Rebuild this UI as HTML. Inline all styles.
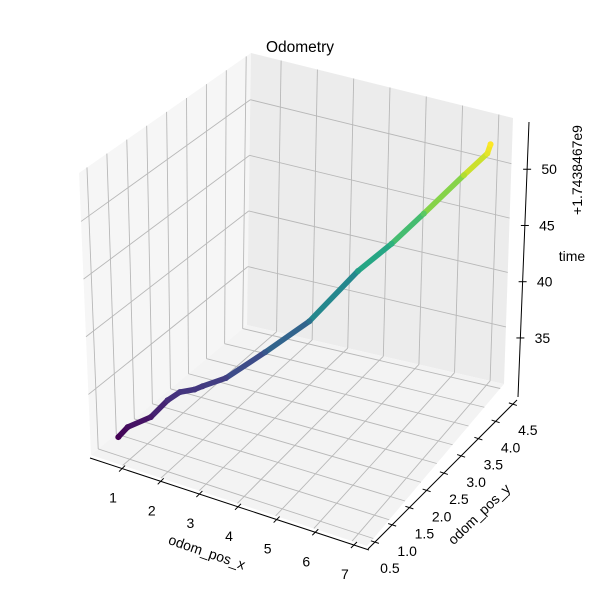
<!DOCTYPE html>
<html><head><meta charset="utf-8"><style>
html,body{margin:0;padding:0;background:#fff;}
svg{display:block;font-family:"Liberation Sans","DejaVu Sans",sans-serif;}
</style></head><body>
<svg id="chart" width="600" height="600" viewBox="0 0 600 600">
<rect width="600" height="600" fill="#fff"/>
<text x="300" y="52" font-size="15.5" text-anchor="middle" fill="#000">Odometry</text>
<g id="panes"></g><g id="grid"></g><g id="axes"></g><g id="marks"></g>
</svg>
<script>
// data
const odomX = [0.43, 0.60, 1.01, 1.31, 1.53, 1.79, 1.93, 2.35, 3.05, 3.85, 4.72, 5.32, 5.89, 6.59, 6.99, 7.04];
const odomY = [0.79, 0.88, 1.10, 1.27, 1.39, 1.53, 1.61, 1.83, 2.22, 2.65, 3.13, 3.45, 3.76, 4.14, 4.36, 4.39];
const timeZ = [30.3, 31.1, 31.8, 33.1, 33.7, 33.8, 34.0, 34.5, 36.3, 38.5, 42.3, 44.3, 46.6, 49.6, 51.3, 52.1];
const xTicks = [1, 2, 3, 4, 5, 6, 7];
const yTicks = [0.5, 1.0, 1.5, 2.0, 2.5, 3.0, 3.5, 4.0, 4.5];
const zTicks = [35, 40, 45, 50];
const xTickLabels = ["1","2","3","4","5","6","7"];
const yTickLabels = ["0.5","1.0","1.5","2.0","2.5","3.0","3.5","4.0","4.5"];
const zTickLabels = ["35","40","45","50"];

const NS = "http://www.w3.org/2000/svg";
const XL = [0.17, 7.39], YL = [0.30, 4.62], ZL = [29.75, 54.2];
const C = {
  "000":[91,455], "100":[367,546], "110":[504,384], "010":[247,325],
  "001":[79,173], "011":[251,53], "111":[513,118], "101":[341,238]
};
function lerp(a,b,t){return [a[0]+(b[0]-a[0])*t, a[1]+(b[1]-a[1])*t];}
function proj(x,y,z){
  const u=(x-XL[0])/(XL[1]-XL[0]), v=(y-YL[0])/(YL[1]-YL[0]), w=(z-ZL[0])/(ZL[1]-ZL[0]);
  const b0=lerp(lerp(C["000"],C["100"],u), lerp(C["010"],C["110"],u), v);
  const b1=lerp(lerp(C["001"],C["101"],u), lerp(C["011"],C["111"],u), v);
  return lerp(b0,b1,w);
}
function mk(tag, attrs, parent){
  const e=document.createElementNS(NS,tag);
  for(const k in attrs) e.setAttribute(k, attrs[k]);
  parent.appendChild(e); return e;
}
const panes=document.getElementById('panes'), grid=document.getElementById('grid'),
      axes=document.getElementById('axes'), marks=document.getElementById('marks');
function poly(pts){return pts.map(p=>p[0].toFixed(1)+','+p[1].toFixed(1)).join(' ');}
let p;
p=mk('polygon',{points:poly([C["000"],C["010"],C["011"],C["001"]]),fill:'#f6f6f6'},panes);
 
p=mk('polygon',{points:poly([C["010"],C["110"],C["111"],C["011"]]),fill:'#ececec'},panes);
 
p=mk('polygon',{points:poly([C["000"],C["100"],C["110"],C["010"]]),fill:'#f3f3f3'},panes);
 

function gl(a,b,name){
  const l=mk('line',{x1:a[0],y1:a[1],x2:b[0],y2:b[1],stroke:'#b8b8b8','stroke-width':0.9},grid);
   
}
xTicks.forEach(x=>{
  gl(proj(x,YL[0],ZL[0]),proj(x,YL[1],ZL[0]),'floor-gridline-x');
  gl(proj(x,YL[1],ZL[0]),proj(x,YL[1],ZL[1]),'back-gridline-x');
});
yTicks.forEach(y=>{
  gl(proj(XL[0],y,ZL[0]),proj(XL[1],y,ZL[0]),'floor-gridline-y');
  gl(proj(XL[0],y,ZL[0]),proj(XL[0],y,ZL[1]),'left-gridline-y');
});
zTicks.forEach(z=>{
  gl(proj(XL[0],YL[0],z),proj(XL[0],YL[1],z),'left-gridline-z');
  gl(proj(XL[0],YL[1],z),proj(XL[1],YL[1],z),'back-gridline-z');
});

const XA=[[90,458],[369,550]], YA=[[368,549],[517,400]], ZA=[[518,397],[529,122]];
function axLine(A,name){
  const l=mk('line',{x1:A[0][0],y1:A[0][1],x2:A[1][0],y2:A[1][1],stroke:'#000','stroke-width':1},axes);
   
}
axLine(XA,'x-axis-line'); axLine(YA,'y-axis-line'); axLine(ZA,'z-axis-line');
function txt(x,y,s,name,extra){
  const t=mk('text',Object.assign({x:x,y:y,'font-size':14,'text-anchor':'middle','dominant-baseline':'central',fill:'#000'},extra||{}),axes);
  t.textContent=s;
   
  return t;
}
function tick(a,dx,dy,name){
  const l=mk('line',{x1:a[0]-dx,y1:a[1]-dy,x2:a[0]+dx,y2:a[1]+dy,stroke:'#000','stroke-width':1},axes);
   
}
xTicks.forEach((x,i)=>{
  const pt=lerp(XA[0],XA[1],(x-XL[0])/(XL[1]-XL[0]));
  tick(pt,3,-3,'x-tick');
  txt(pt[0]-9,pt[1]+29,xTickLabels[i],'x-tick-label');
});
yTicks.forEach((y,i)=>{
  const pt=lerp(YA[0],YA[1],(y-YL[0])/(YL[1]-YL[0]));
  tick(pt,4,1.3,'y-tick');
  txt(pt[0]+15,pt[1]+26,yTickLabels[i],'y-tick-label');
});
zTicks.forEach((z,i)=>{
  const pt=lerp(ZA[0],ZA[1],(z-ZL[0])/(ZL[1]-ZL[0]));
  tick(pt,4,0,'z-tick');
  txt(pt[0]+22,pt[1],zTickLabels[i],'z-tick-label');
});
txt(207,552,'odom_pos_x','x-axis-title',{transform:'rotate(19 207 552)'});
txt(479,514,'odom_pos_y','y-axis-title',{transform:'rotate(-44 479 514)'});
txt(572,256,'time','z-axis-title');
txt(577,170,'+1.7438467e9','z-offset-label',{transform:'rotate(-90 577 170)'});

const VIR=["#440154","#472c7a","#3b518b","#2c718e","#21908d","#27ad81","#5cc863","#aadc32","#fde725"];
function hex(h){return [1,3,5].map(i=>parseInt(h.substr(i,2),16));}
function viridis(t){
  t=Math.max(0,Math.min(1,t)); const f=t*(VIR.length-1), i=Math.min(VIR.length-2,Math.floor(f)), r=f-i;
  const a=hex(VIR[i]), b=hex(VIR[i+1]);
  return 'rgb('+a.map((v,k)=>Math.round(v+(b[k]-v)*r)).join(',')+')';
}
const zmin=Math.min(...timeZ), zmax=Math.max(...timeZ);
const pts=timeZ.map((z,i)=>proj(odomX[i],odomY[i],z));
for(let i=0;i<pts.length-1;i++){
  const c=viridis(((timeZ[i]+timeZ[i+1])/2-zmin)/(zmax-zmin));
  const s=mk('line',{x1:pts[i][0],y1:pts[i][1],x2:pts[i+1][0],y2:pts[i+1][1],stroke:c,'stroke-width':5.5,'stroke-linecap':'round'},marks);
  
  
}
pts.forEach((q,i)=>{
  const c=mk('circle',{cx:q[0],cy:q[1],r:3,fill:viridis((timeZ[i]-zmin)/(zmax-zmin))},marks);
  
  
});
</script>
</body></html>
